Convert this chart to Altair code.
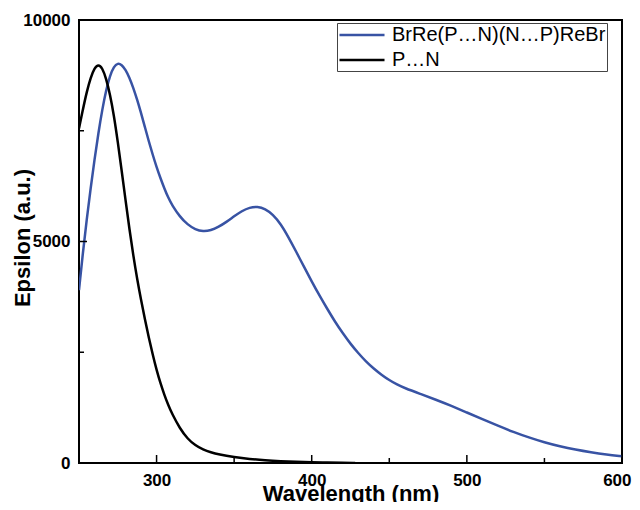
import altair as alt
import pandas as pd

# Series 1: BrRe(P…N)(N…P)ReBr
blue_wl = [250, 252.5, 255, 257.5, 260, 262.5, 265, 267.5, 270, 272.5, 275, 277.5, 280, 282.5,
           285, 287.5, 290, 292.5, 295, 297.5, 300, 302.5, 305, 307.5, 310, 315, 320, 325, 330, 335, 340,
           345, 350, 355, 360, 365, 370, 375, 380, 385, 390, 395, 400, 405, 410, 415, 420,
           425, 430, 435, 440, 445, 450, 455, 460, 470, 480, 490, 500, 510, 520, 530, 540,
           550, 560, 570, 580, 590, 600]
blue_eps = [3900, 4750, 5500, 6200, 6850, 7450, 7980, 8420, 8750, 8950, 9030, 8990, 8880, 8700,
            8470, 8200, 7900, 7580, 7260, 6960, 6680, 6430, 6200, 5990, 5820, 5560, 5380, 5270, 5225, 5250, 5330,
            5440, 5570, 5690, 5770, 5790, 5740, 5610, 5400, 5100, 4770, 4430, 4100, 3780, 3480, 3190, 2930,
            2690, 2480, 2290, 2130, 1990, 1870, 1770, 1690, 1560, 1430, 1290, 1140, 990, 840, 700, 575,
            465, 375, 300, 240, 190, 150]

# Series 2: P…N
black_wl = [250, 252.5, 255, 257.5, 260, 262.5, 265, 267.5, 270, 272.5, 275, 277.5, 280, 282.5,
            285, 287.5, 290, 292.5, 295, 297.5, 300, 302.5, 305, 307.5, 310, 315, 320, 325, 330,
            335, 340, 350, 360, 370, 380, 390, 400, 410, 420, 428]
black_eps = [7550, 7980, 8380, 8700, 8920, 9000, 8920, 8680, 8320, 7850, 7250, 6600, 5930, 5280,
             4680, 4150, 3680, 3240, 2830, 2450, 2100, 1800, 1540, 1310, 1110, 780, 545, 395, 300,
             240, 195, 135, 90, 60, 40, 25, 15, 8, 4, 2]

series_names = ["BrRe(P…N)(N…P)ReBr", "P…N"]
series_colors = ["#3853a4", "#000000"]

x_major = [300, 400, 500, 600]
x_minor = [350, 450, 550]
y_major = [0, 5000, 10000]
y_minor = [2500, 7500]

df = pd.concat([
    pd.DataFrame({"wl": blue_wl, "eps": blue_eps, "series": series_names[0]}),
    pd.DataFrame({"wl": black_wl, "eps": black_eps, "series": series_names[1]}),
])

W, H = 543, 443
FONT = "Liberation Sans"

xscale = alt.Scale(domain=[250, 600], nice=False, zero=False)
yscale = alt.Scale(domain=[0, 10000], nice=False)
xaxis = alt.Axis(values=x_major, format="d", title="Wavelength (nm)",
                 labelFlush=True, labelFlushOffset=9,
                 titleX=W / 2, titleY=37, titleBaseline="alphabetic", titleAlign="center")
yaxis = alt.Axis(values=y_major, format="d", title="Epsilon (a.u.)",
                 titleX=-57, titleY=H / 2 - 4, titleAngle=270, titleBaseline="middle",
                 titleAlign="center")

lines = alt.Chart(df).mark_line(strokeWidth=2.5, interpolate="basis", clip=True).encode(
    x=alt.X("wl:Q", scale=xscale, axis=xaxis),
    y=alt.Y("eps:Q", scale=yscale, axis=yaxis),
    color=alt.Color("series:N",
                    scale=alt.Scale(domain=series_names, range=series_colors),
                    legend=alt.Legend(title=None, orient="none", legendX=258, legendY=3)),
)

xmaj = alt.Chart(pd.DataFrame({"wl": x_major})).mark_rule(color="black", strokeWidth=1.5).encode(
    x=alt.X("wl:Q", scale=xscale, axis=xaxis), y=alt.value(H), y2=alt.value(H - 8))
xmin = alt.Chart(pd.DataFrame({"wl": x_minor})).mark_rule(color="black", strokeWidth=1.5).encode(
    x=alt.X("wl:Q", scale=xscale, axis=xaxis), y=alt.value(H), y2=alt.value(H - 5))
ymaj = alt.Chart(pd.DataFrame({"eps": y_major})).mark_rule(color="black", strokeWidth=1.5).encode(
    y=alt.Y("eps:Q", scale=yscale, axis=yaxis), x=alt.value(0), x2=alt.value(8))
ymin = alt.Chart(pd.DataFrame({"eps": y_minor})).mark_rule(color="black", strokeWidth=1.5).encode(
    y=alt.Y("eps:Q", scale=yscale, axis=yaxis), x=alt.value(0), x2=alt.value(5))

chart = alt.layer(lines, xmaj, xmin, ymaj, ymin).properties(
    width=W, height=H,
    background="white",
    autosize=alt.AutoSizeParams(type="none"),
    padding={"left": 71, "top": 12, "right": 10, "bottom": 39},
).configure_view(
    stroke="black", strokeWidth=2
).configure_axis(
    domain=False, ticks=False, tickSize=0, grid=False,
    labelFont=FONT, labelFontSize=17, labelFontWeight="bold", labelColor="black",
    titleFont=FONT, titleFontSize=22, titleFontWeight="bold", titleColor="black",
    labelPadding=9, labelOverlap=False,
).configure_legend(
    strokeColor="#444", strokeWidth=1, padding=1, fillColor="white",
    symbolType="M-2.37,0H2.37", symbolSize=361, symbolStrokeWidth=2.5, symbolOffset=13,
    labelFont=FONT, labelFontSize=20, labelColor="black", labelLimit=400,
    labelOffset=19, rowPadding=4,
)

chart.save("out.html", embed_options={"renderer": "svg", "actions": False})
